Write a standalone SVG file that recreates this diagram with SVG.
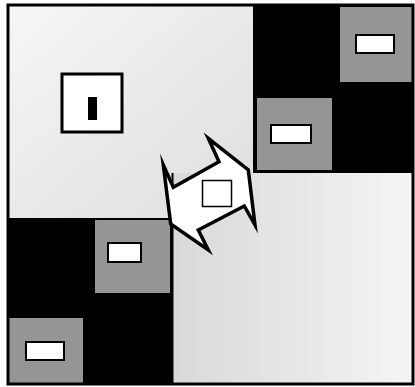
<svg xmlns="http://www.w3.org/2000/svg" width="415" height="387" viewBox="0 0 415 387">
  <defs>
    <style>
      .dark { fill: #000000; }
      .tile { fill: #959595; }
      .slot { fill: #ffffff; stroke: #000; stroke-width: 2; }
      .frame { fill: none; stroke: #000; stroke-width: 3; }
    </style>
    <linearGradient id="gTL" x1="0" y1="0" x2="1" y2="1">
      <stop offset="0" stop-color="#f6f6f6"/>
      <stop offset="1" stop-color="#dedede"/>
    </linearGradient>
    <linearGradient id="gBR" x1="0" y1="0" x2="1" y2="0">
      <stop offset="0" stop-color="#d9d9d9"/>
      <stop offset="1" stop-color="#f4f4f4"/>
    </linearGradient>
  </defs>
  <rect width="415" height="387" fill="#ffffff"/>

  <g id="quadrant-top-left">
    <rect x="8" y="5" width="245" height="213" fill="url(#gTL)"/>
    <rect x="62" y="74" width="60" height="58" fill="#ffffff" stroke="#000" stroke-width="3"/>
    <rect x="88" y="97" width="9" height="23" fill="#000"/>
  </g>

  <g id="quadrant-top-right">
    <rect x="253" y="5" width="160" height="168" class="dark"/>
    <g id="tile-tr-1">
      <rect x="340" y="7" width="72" height="75" class="tile"/>
      <rect x="356" y="35" width="38" height="18" class="slot"/>
    </g>
    <g id="tile-tr-2">
      <rect x="257" y="98" width="75" height="72" class="tile"/>
      <rect x="271" y="125" width="40" height="18" class="slot"/>
    </g>
  </g>

  <g id="quadrant-bottom-left">
    <rect x="8" y="218" width="164" height="166" class="dark"/>
    <g id="tile-bl-1">
      <rect x="95" y="220" width="75" height="73" class="tile"/>
      <rect x="108" y="243" width="33" height="19" class="slot"/>
    </g>
    <g id="tile-bl-2">
      <rect x="7" y="318" width="76" height="66" class="tile"/>
      <rect x="26" y="342" width="38" height="18" class="slot"/>
    </g>
  </g>

  <g id="quadrant-bottom-right">
    <rect x="172" y="173" width="241" height="211" fill="url(#gBR)"/>
    <line x1="172.5" y1="173" x2="172.5" y2="384" stroke="#000" stroke-width="2"/>
  </g>

  <rect x="8" y="5" width="405" height="379" class="frame"/>

  <g id="connectors">
    <g id="double-arrow">
      <polygon points="208.3,138.3 248.3,170 255,225 244.3,206 198.3,230 208.3,250 170.7,224 163.3,165 173.3,187.3 219,161.7" fill="#ffffff" stroke="#000" stroke-width="3.5" stroke-linejoin="miter" stroke-miterlimit="12"/>
      <rect x="202.5" y="180.5" width="29" height="26" fill="#ffffff" stroke="#000" stroke-width="1.5"/>
    </g>
  </g>
</svg>
